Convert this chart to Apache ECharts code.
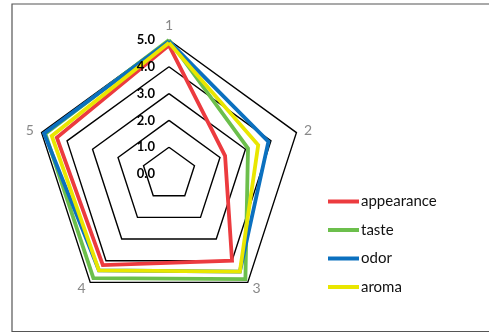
<!DOCTYPE html>
<html>
<head>
<meta charset="utf-8">
<script src="https://cdn.jsdelivr.net/npm/echarts@6/dist/echarts.min.js"></script>
<style>
  html, body { margin: 0; padding: 0; background: #fff; }
  #chart { width: 489px; height: 333px; }
</style>
</head>
<body>
<div id="chart"></div>
<script>
// Five rated attributes, scored 0–5
const axes = ['1', '2', '3', '4', '5'];
const tickLabels = ['0.0', '1.0', '2.0', '3.0', '4.0', '5.0'];
const seriesNames = ['appearance', 'taste', 'odor', 'aroma'];
const appearance = [4.8, 2.2, 4.0, 4.2, 4.4];
const taste = [5.0, 3.1, 4.85, 4.8, 4.85];
const odor = [4.95, 3.9, 4.5, 4.45, 4.9];
const aroma = [4.9, 3.5, 4.5, 4.45, 4.6];
const colors = ['#ec3b3f', '#6cbf4c', '#0b70bf', '#e9e600'];

const values = [appearance, taste, odor, aroma];

// ECharts lays radar axes out counter-clockwise; walk them in reverse
// (1, 5, 4, 3, 2) so the numbering runs clockwise from the top.
const order = [0, 4, 3, 2, 1];
const reorder = (arr) => order.map((k) => arr[k]);

const radarBase = {
  center: [169, 174],
  radius: 134,
  startAngle: 90,
  splitNumber: 5,
  shape: 'polygon',
  splitArea: { show: false },
  axisLine: { show: false },
  axisTick: { show: false },
  axisLabel: { show: false }
};

const chart = echarts.init(document.getElementById('chart'));
chart.setOption({
  animation: false,
  graphic: [{
    type: 'rect',
    shape: { x: 12, y: 4, width: 490, height: 327.5 },
    style: { fill: 'none', stroke: '#555', lineWidth: 1.2 },
    silent: true
  }],
  legend: {
    orient: 'vertical',
    left: 323,
    top: 189,
    itemWidth: 31,
    itemHeight: 4,
    itemGap: 13.5,
    icon: 'rect',
    textStyle: { fontFamily: 'Lato', fontSize: 15, color: '#111', padding: [0, 0, 0, -3] },
    data: seriesNames
  },
  radar: [
    Object.assign({}, radarBase, {
      nameGap: 8,
      axisName: { color: '#888', fontFamily: 'Lato', fontSize: 14 },
      splitLine: { lineStyle: { color: '#000', width: 1.4 } },
      indicator: reorder(axes).map((name) => ({ name: name, min: 0, max: 5 }))
    }),
    // Same frame again, carrying only the value labels on the top axis,
    // so the labels sit above the data lines.
    Object.assign({}, radarBase, {
      z: 10,
      axisName: { show: false },
      splitLine: { show: false },
      indicator: reorder(axes).map((name, i) => {
        const ind = { name: name, min: 0, max: 5 };
        if (i === 0) {
          ind.axisLabel = {
            show: true,
            color: '#000',
            fontWeight: 'bold',
            fontFamily: 'Lato',
            fontSize: 13,
            margin: 14,
            formatter: (v) => tickLabels[Math.round(v)] ?? ''
          };
        }
        return ind;
      })
    })
  ],
  series: [{
    type: 'radar',
    radarIndex: 0,
    symbol: 'none',
    data: seriesNames.map((n, i) => ({
      name: n,
      value: reorder(values[i]),
      lineStyle: { color: colors[i], width: 3.8, join: 'miter' },
      itemStyle: { color: colors[i] }
    }))
  }]
});
</script>
</body>
</html>
